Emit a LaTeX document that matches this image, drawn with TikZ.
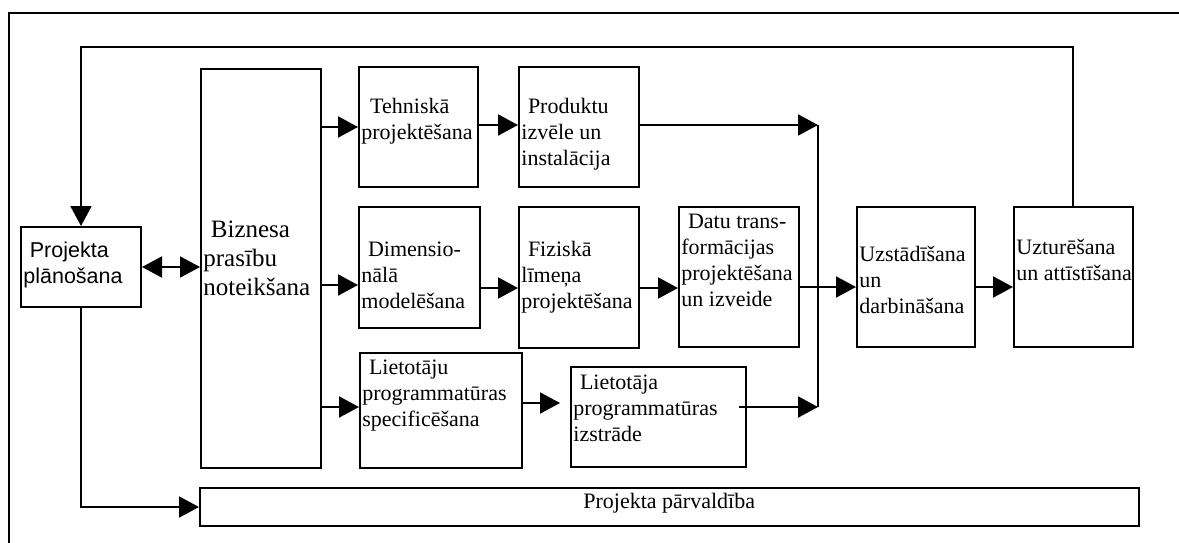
\documentclass[tikz,border=0pt]{standalone}
\usepackage{fontspec}
\setmainfont{Liberation Serif}
\newfontfamily\arialf{Liberation Sans}
\usetikzlibrary{arrows.meta,fit}
\begin{document}
\begin{tikzpicture}[x=0.5pt,y=-0.5pt,
  box/.style={draw, line width=1pt, inner sep=0pt},
  txt/.style={anchor=north west, inner sep=0pt, align=left, font=\fontsize{11}{13}\selectfont},
  bigtxt/.style={anchor=north west, inner sep=0pt, align=left, font=\fontsize{12.5}{14.5}\selectfont},
  stxt/.style={anchor=north west, inner sep=0pt, align=left, font=\arialf\fontsize{10.75}{13}\selectfont},
  arr/.style={line width=1pt, -{Triangle[length=10pt,width=10.5pt]}},
  darr/.style={line width=1pt, {Triangle[length=10pt,width=10.5pt]}-{Triangle[length=10pt,width=10.5pt]}},
  conn/.style={line width=1pt}]
\useasboundingbox (0,0) rectangle (1179,542);

% outer frame (cropped)
\coordinate (frBL) at (9,545);
\coordinate (frTL) at (9,13);
\coordinate (frTR) at (1185,13);
\draw[conn] (frBL) -- (frTL) -- (frTR);

% boxes
\node[box, fit={(21,227) (141,307)}] (proj) {};
\node[box, fit={(201,69) (321,468)}] (bizn) {};
\node[box, fit={(359,67) (478,187)}] (tech) {};
\node[box, fit={(519,67) (639,187)}] (prod) {};
\node[box, fit={(359,207) (480,328)}] (dim) {};
\node[box, fit={(519,207) (639,348)}] (fiz) {};
\node[box, fit={(679,207) (799,347)}] (datu) {};
\node[box, fit={(857,207) (975,347)}] (uzst) {};
\node[box, fit={(1014,207) (1133,347)}] (uztur) {};
\node[box, fit={(360,353) (522,468)}] (lietA) {};
\node[box, fit={(571,367) (746,467)}] (lietB) {};
\node[box, fit={(200,488) (1139,526)}] (parv) {};

% texts
\node[stxt] (projT) at (23,239) {\strut\hspace{0.3em}Projekta\\plānošana};
\node[bigtxt] (biznT) at (203,217) {\strut\hspace{0.3em}Biznesa\\prasību\\noteikšana};
\node[txt] (techT) at (361,95) {\strut\hspace{0.4em}Tehniskā\\projektēšana};
\node[txt] (prodT) at (521,95) {\strut\hspace{0.3em}Produktu\\izvēle un\\instalācija};
\node[txt] (dimT) at (361,238) {\strut\hspace{0.3em}Dimensio-\\nālā\\modelēšana};
\node[txt] (fizT) at (521,238) {\strut\hspace{0.3em}Fiziskā\\līmeņa\\projektēšana};
\node[txt] (datuT) at (681,210) {\strut\hspace{0.3em}Datu trans-\\formācijas\\projektēšana\\un izveide};
\node[txt] (uzstT) at (859,243) {\strut Uzstādīšana\\un\\darbināšana};
\node[txt] (uzturT) at (1016,236) {\strut Uzturēšana\\un attīstīšana};
\node[txt] (lietAT) at (362,356) {\strut\hspace{0.3em}Lietotāju\\programmatūras\\specificēšana};
\node[txt] (lietBT) at (573,371) {\strut\hspace{0.3em}Lietotāja\\programmatūras\\izstrāde};
\node[txt] (parvT) at (583,490) {\strut Projekta pārvaldība};

% helper coordinates
\coordinate (fbR) at (1073,47);
\coordinate (fbL) at (81,47);
\coordinate (busT) at (818,125);
\coordinate (busB) at (818,407);
\coordinate (y127) at (0,127);
\coordinate (y125) at (0,125);
\coordinate (y285) at (0,285);
\coordinate (y288) at (0,288);
\coordinate (y287) at (0,287);
\coordinate (y407) at (0,407);
\coordinate (y403) at (0,403);
\coordinate (x739) at (739,0);

% connectors
\draw[arr] (uztur.north -| fbR) -- (fbR) -- (fbL) -- (proj.north);
\draw[darr] (proj.east) -- (proj.east -| bizn.west);
\draw[arr] (bizn.east |- y127) -- (tech.west |- y127);
\draw[arr] (tech.east |- y125) -- (prod.west |- y125);
\draw[arr] (prod.east |- y125) -- (busT);
\draw[arr] (bizn.east |- y285) -- (dim.west |- y285);
\draw[arr] (dim.east |- y288) -- (fiz.west |- y288);
\draw[arr] (fiz.east |- y288) -- (datu.west |- y288);
\draw[arr] (datu.east |- y287) -- (uzst.west |- y287);
\draw[arr] (uzst.east |- y287) -- (uztur.west |- y287);
\draw[arr] (bizn.east |- y407) -- (lietA.west |- y407);
\draw[arr, shorten >=5pt] (lietA.east |- y403) -- (lietB.west |- y403);
\draw[arr] (x739 |- y407) -- (busB);
\draw[conn] (busT) -- (busB);
\draw[arr] (proj.south) |- (parv.west);
\end{tikzpicture}
\end{document}
